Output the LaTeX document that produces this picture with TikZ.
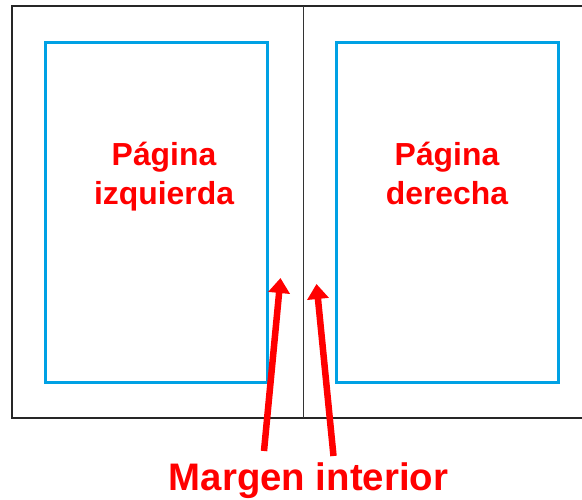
\documentclass[tikz,border=0pt]{standalone}
\usepackage{fontspec}
\setmainfont{Liberation Sans}
\usetikzlibrary{arrows.meta,positioning}
\definecolor{azulpag}{RGB}{0,161,228}
\definecolor{rojo}{RGB}{255,0,0}
\tikzset{
    %Define style for page boxes
    pagina/.style={
           rectangle,
           draw=azulpag, line width=3bp,
           minimum width=222bp,
           minimum height=339bp,
           inner sep=0pt},
    %Define style for labels
    etiqueta/.style={
           text=rojo,
           font=\fontsize{32}{39}\selectfont\bfseries,
           align=center,
           inner sep=0pt},
    % Define arrow style
    pil/.style={
           -{Triangle[width=21bp,length=15bp]},
           draw=rojo,
           line width=6.5bp}
}
\begin{document}
\begin{tikzpicture}[x=1bp,y=-1bp]
\useasboundingbox (0,0) rectangle (582,500);
% outer frame and fold
\draw[line width=2bp,black!85] (582,6.5) -- (12,6.5) -- (12,418) -- (582,418);
\coordinate (lomoarriba) at (303,6.5);
\coordinate (lomoabajo) at (303,418);
\draw[line width=1bp,black!80] (lomoarriba) -- (lomoabajo);
% pages
\node[pagina](izq) at (156.75,212.5){};
\node[pagina](der) at (447.75,212.5){};
\node[etiqueta, anchor=north](txtizq) at (164,142){P\'agina\\izquierda};
\node[etiqueta, anchor=north](txtder) at (447,142){P\'agina\\derecha};
% arrows
\coordinate (pieizq) at (264,451);
\coordinate (puntaizq) at (280.5,278);
\coordinate (pieder) at (333.5,456);
\coordinate (puntader) at (316.5,284);
\draw[pil] (pieizq) -- (puntaizq);
\draw[pil] (pieder) -- (puntader);
\node[etiqueta, font=\fontsize{38.5}{44}\selectfont\bfseries, anchor=base](margen) at (308.5,490){Margen interior};
\end{tikzpicture}
\end{document}
